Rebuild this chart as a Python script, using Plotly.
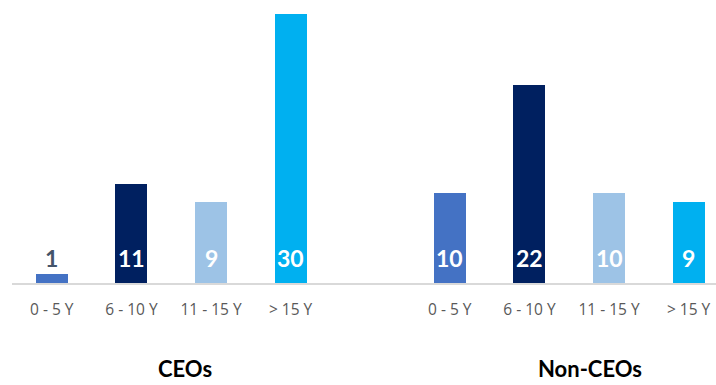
import plotly.graph_objects as go

# Tenure buckets and head counts per group
categories = ["0 - 5 Y", "6 - 10 Y", "11 - 15 Y", "> 15 Y"]
ceo_counts = [1, 11, 9, 30]
non_ceo_counts = [10, 22, 10, 9]
groups = ["CEOs", "Non-CEOs"]
bar_colors = ["#4472C4", "#002060", "#9DC3E6", "#00B0F0"]

# Slot positions: CEO bars in 0-3, one empty slot, Non-CEO bars in 5-8
ceo_x = [0, 1, 2, 3]
non_ceo_x = [5, 6, 7, 8]

fig = go.Figure()

for xs, vals, name in [(ceo_x, ceo_counts, groups[0]), (non_ceo_x, non_ceo_counts, groups[1])]:
    fig.add_trace(go.Bar(
        x=xs, y=vals, name=name,
        marker=dict(color=bar_colors, line=dict(width=0)),
        width=0.4, showlegend=False, hoverinfo="x+y",
    ))

# Value labels sit near the base of each bar
label_y = 2.8
for xs, vals in [(ceo_x, ceo_counts), (non_ceo_x, non_ceo_counts)]:
    for xv, v in zip(xs, vals):
        col = "#44546A" if v < 3 else "#FFFFFF"
        fig.add_annotation(
            x=xv, y=label_y, text=f"<b>{v}</b>", showarrow=False,
            xanchor="center", yanchor="middle",
            font=dict(family="Lato", size=23, color=col),
        )

# Group titles along the bottom edge
for gx, g in zip([1.67, 6.76], groups):
    fig.add_annotation(
        x=gx, y=-0.358, xref="x", yref="paper", text=f"<b>{g}</b>",
        showarrow=False, xanchor="center", yanchor="bottom",
        font=dict(family="Lato", size=22, color="#000000"),
    )

fig.update_layout(
    width=716, height=385,
    margin=dict(l=12, r=0, t=0, b=102),
    plot_bgcolor="white", paper_bgcolor="white",
    bargap=0,
    xaxis=dict(
        range=[-0.5, 8.344],
        tickvals=ceo_x + non_ceo_x,
        ticktext=categories + categories,
        tickfont=dict(family="Open Sans", size=15.5, color="#595959"),
        showline=True, linecolor="#D9D9D9", linewidth=2,
        ticks="outside", ticklen=11, tickcolor="rgba(0,0,0,0)",
        showgrid=False, zeroline=False, fixedrange=True,
    ),
    yaxis=dict(
        range=[0, 31.51], visible=False, showgrid=False,
        zeroline=False, fixedrange=True,
    ),
)

fig.write_html("out.html")
